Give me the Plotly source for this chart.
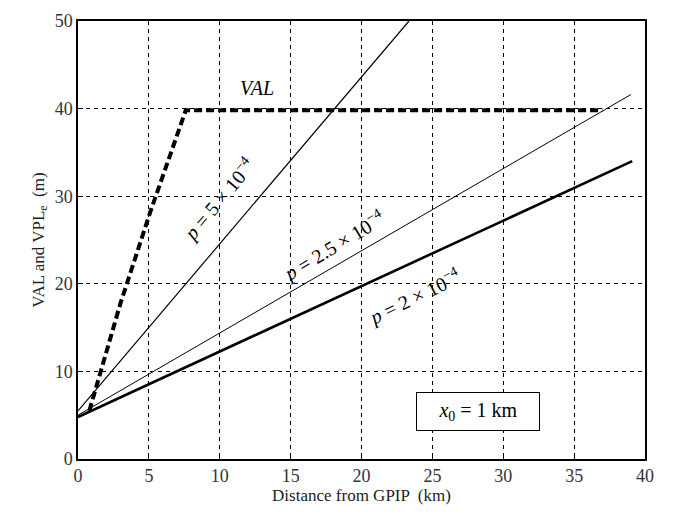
import plotly.graph_objects as go

# Data
val_x = [0.8, 1.0, 3.0, 5.1, 7.6, 37.0]
val_y = [5.5, 6.6, 17.8, 28.2, 39.8, 39.8]

p5_x = [0.0, 23.35]
p5_y = [5.5, 50.0]

p25_x = [0.0, 39.0]
p25_y = [5.0, 41.6]

p2_x = [0.0, 39.1]
p2_y = [4.8, 34.0]

x_ticks = [0, 5, 10, 15, 20, 25, 30, 35, 40]
y_ticks = [0, 10, 20, 30, 40, 50]

SERIF = "Liberation Serif, Times New Roman, serif"

fig = go.Figure()
fig.add_trace(go.Scatter(x=p2_x, y=p2_y, mode="lines",
                         line=dict(color="black", width=2.6)))
fig.add_trace(go.Scatter(x=p25_x, y=p25_y, mode="lines",
                         line=dict(color="black", width=1)))
fig.add_trace(go.Scatter(x=p5_x, y=p5_y, mode="lines",
                         line=dict(color="black", width=1.2)))
fig.add_trace(go.Scatter(x=val_x, y=val_y, mode="lines",
                         line=dict(color="black", width=4, dash="8px,4px")))

annos = [
    dict(x=12.6, y=42.4, text="<i>VAL</i>", textangle=0, size=20),
    dict(x=9.9, y=29.6, text="<i>p</i> = 5 × 10<sup>−4</sup>", textangle=-50, size=20),
    dict(x=18.0, y=24.4, text="<i>p</i> = 2.5 × 10<sup>−4</sup>", textangle=-31, size=20),
    dict(x=23.7, y=18.6, text="<i>p</i> = 2 × 10<sup>−4</sup>", textangle=-26, size=20),
]
for a in annos:
    fig.add_annotation(x=a["x"], y=a["y"], text=a["text"], textangle=a["textangle"],
                       showarrow=False, font=dict(family=SERIF, size=a["size"], color="black"))

fig.add_annotation(x=28.2, y=5.4, text="<i>x</i><sub>0</sub> = 1 km", showarrow=False,
                   font=dict(family=SERIF, size=20, color="black"),
                   bordercolor="black", borderwidth=1, borderpad=6, bgcolor="white",
                   width=110)

axis_common = dict(
    showgrid=True, gridcolor="black", gridwidth=1, griddash="4px,4px",
    showline=True, linecolor="black", linewidth=1.5, mirror=True,
    ticks="inside", ticklen=5, tickcolor="black",
    zeroline=False,
    tickfont=dict(family=SERIF, size=18, color="#333333"),
    title_font=dict(family=SERIF, size=17, color="#222222"),
)

fig.update_xaxes(range=[0, 40], tickvals=x_ticks, title_text="Distance from GPIP  (km)",
                 title_standoff=4, **axis_common)
fig.update_yaxes(range=[0, 50], tickvals=y_ticks, title_text="VAL and VPL<sub>e</sub>  (m)",
                 title_standoff=6, **axis_common)

fig.update_layout(
    width=680, height=516,
    margin=dict(l=78, r=35, t=11, b=57),
    plot_bgcolor="white", paper_bgcolor="white",
    showlegend=False,
)

fig.write_html("out.html")
